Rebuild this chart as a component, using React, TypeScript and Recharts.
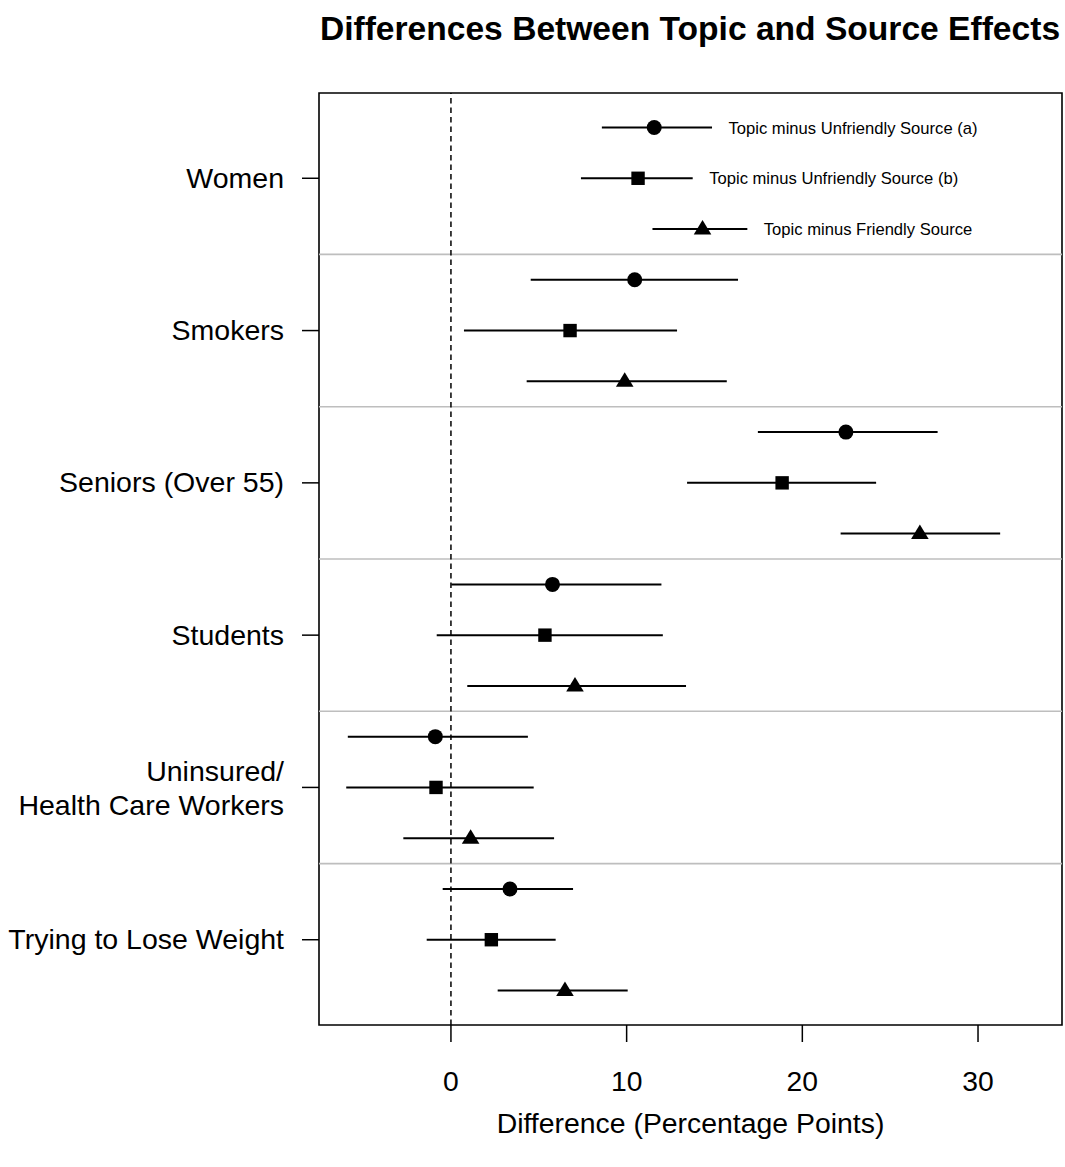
import React from 'react';
import { ScatterChart, Scatter, XAxis, YAxis, ErrorBar, ReferenceLine, ReferenceArea } from 'recharts';

const groups = ['Women', 'Smokers', 'Seniors (Over 55)', 'Students', 'Uninsured/\nHealth Care Workers', 'Trying to Lose Weight'];
const seriesNames = ['Topic minus Unfriendly Source (a)', 'Topic minus Unfriendly Source (b)', 'Topic minus Friendly Source'];

const unfriendlyA = [11.57, 10.46, 22.48, 5.78, -0.89, 3.36];
const unfriendlyALo = [8.59, 4.54, 17.47, 0.02, -5.87, -0.47];
const unfriendlyAHi = [14.86, 16.34, 27.7, 11.98, 4.38, 6.95];

const unfriendlyB = [10.65, 6.78, 18.85, 5.35, -0.85, 2.3];
const unfriendlyBLo = [7.4, 0.74, 13.44, -0.81, -5.96, -1.38];
const unfriendlyBHi = [13.76, 12.87, 24.2, 12.06, 4.71, 5.96];

const friendly = [14.32, 9.89, 26.69, 7.06, 1.12, 6.49];
const friendlyLo = [11.47, 4.31, 22.18, 0.93, -2.71, 2.66];
const friendlyHi = [16.87, 15.7, 31.26, 13.38, 5.87, 10.06];

const xTicks = [0, 10, 20, 30];
const xDomain: [number, number] = [-7.51, 34.78];
const yDomain: [number, number] = [0.32, 18.68];
const groupTicks = groups.map((_, g) => g * 3 + 2);
const separators = [3.5, 6.5, 9.5, 12.5, 15.5];

const FONT = '"Liberation Sans", Arial, Helvetica, sans-serif';

const seriesDefs = [
  { est: unfriendlyA, lo: unfriendlyALo, hi: unfriendlyAHi },
  { est: unfriendlyB, lo: unfriendlyBLo, hi: unfriendlyBHi },
  { est: friendly, lo: friendlyLo, hi: friendlyHi },
];

const seriesData = seriesDefs.map((s, si) =>
  s.est.map((v, g) => ({
    x: v,
    y: g * 3 + si + 1,
    err: [v - s.lo[g], s.hi[g] - v],
  }))
);

const labelData = seriesDefs.map((s, si) => ({
  x: s.hi[0],
  y: si + 1,
  label: seriesNames[si],
}));

const CircleShape = (p: any) => <circle cx={p.cx} cy={p.cy} r={7.5} fill="#000" />;
const SquareShape = (p: any) => (
  <rect x={p.cx - 6.7} y={p.cy - 6.7} width={13.4} height={13.4} fill="#000" />
);
const TriangleShape = (p: any) => (
  <polygon
    points={`${p.cx},${p.cy - 9} ${p.cx - 8.8},${p.cy + 5.5} ${p.cx + 8.8},${p.cy + 5.5}`}
    fill="#000"
  />
);
const shapes = [CircleShape, SquareShape, TriangleShape];

const LabelShape = (p: any) => (
  <text x={p.cx + 16.5} y={p.cy + 6} fontSize={16.6} fontFamily={FONT} fill="#000">
    {p.payload.label}
  </text>
);

const YTick = (p: any) => {
  const idx = groupTicks.indexOf(p.payload.value);
  const lines = (groups[idx] || '').split('\n');
  const offsets = lines.length === 1 ? [9.5] : [-6, 28];
  return (
    <g>
      {lines.map((l, i) => (
        <text key={i} x={p.x} y={p.y + offsets[i]} textAnchor="end" fontSize={28.5} fontFamily={FONT} fill="#000">
          {l}
        </text>
      ))}
    </g>
  );
};

const XTick = (p: any) => (
  <text x={p.x} y={p.y + 49} textAnchor="middle" fontSize={28.3} fontFamily={FONT} fill="#000">
    {p.payload.value}
  </text>
);

export default function App() {
  return (
    <div style={{ position: 'absolute', left: 0, top: 0, width: 1065, height: 1167, background: '#fff' }}>
      <ScatterChart width={1065} height={1167} margin={{ top: 93, right: 3, bottom: 42, left: 0 }}>
        <XAxis
          type="number"
          dataKey="x"
          domain={xDomain}
          allowDataOverflow
          ticks={xTicks}
          axisLine={false}
          tickLine={{ stroke: '#000', strokeWidth: 1.5 }}
          tickSize={17}
          tickMargin={0}
          tick={<XTick />}
          height={100}
          interval={0}
        />
        <YAxis
          type="number"
          dataKey="y"
          domain={yDomain}
          allowDataOverflow
          reversed
          ticks={groupTicks}
          axisLine={false}
          tickLine={{ stroke: '#000', strokeWidth: 1.5 }}
          tickSize={17}
          tickMargin={18}
          tick={<YTick />}
          width={319}
          interval={0}
        />
        {separators.map((s) => (
          <ReferenceLine key={s} y={s} stroke="#bebebe" strokeWidth={1.6} />
        ))}
        <ReferenceLine x={0} stroke="#000" strokeWidth={1.5} strokeDasharray="5.5 4" />
        <ReferenceArea
          x1={xDomain[0]}
          x2={xDomain[1]}
          y1={yDomain[0]}
          y2={yDomain[1]}
          fill="none"
          fillOpacity={0}
          stroke="#000"
          strokeWidth={1.6}
          ifOverflow="visible"
        />
        {seriesData.map((d, si) => (
          <Scatter key={si} name={seriesNames[si]} data={d} shape={shapes[si]} isAnimationActive={false}>
            <ErrorBar dataKey="err" direction="x" width={0} stroke="#000" strokeWidth={2} isAnimationActive={false} />
          </Scatter>
        ))}
        <Scatter name="labels" data={labelData} shape={LabelShape} isAnimationActive={false} />
      </ScatterChart>
      <svg
        width={1065}
        height={1167}
        style={{ position: 'absolute', left: 0, top: 0, pointerEvents: 'none' }}
      >
        <text x={690} y={40} textAnchor="middle" fontSize={33.6} fontWeight="bold" fontFamily={FONT} fill="#000">
          Differences Between Topic and Source Effects
        </text>
        <text x={690.5} y={1133} textAnchor="middle" fontSize={28.4} fontFamily={FONT} fill="#000">
          Difference (Percentage Points)
        </text>
      </svg>
    </div>
  );
}
